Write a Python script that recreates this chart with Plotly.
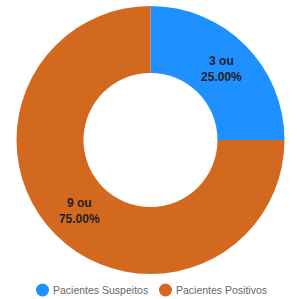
import plotly.graph_objects as go

labels = ["Pacientes Suspeitos", "Pacientes Positivos"]
values = [3, 9]
colors = ["#1E90FF", "#D2691E"]

W, H = 297, 299
fig = go.Figure()
fig.add_trace(go.Pie(
    labels=labels, values=values, hole=0.5, sort=False,
    direction="clockwise", rotation=0,
    marker=dict(colors=colors, line=dict(width=0)),
    texttemplate="<b>%{value} ou<br>%{percent:.2%}</b>",
    textposition="inside", insidetextorientation="horizontal",
    textfont=dict(family="Arial, Liberation Sans", size=12, color="#222"),
    showlegend=False, hoverinfo="label+value+percent",
    domain=dict(x=[16.5/W, 284.5/W], y=[1-274/H, 1-6/H]),
))

# legend drawn with circle shapes + text
legend_x = [36, 159]  # px, left of circle
for lab, col, lx in zip(labels, colors, legend_x):
    fig.add_shape(type="circle", xref="paper", yref="paper",
                  x0=lx/W, x1=(lx+13)/W, y0=1-296.5/H, y1=1-283.5/H,
                  fillcolor=col, line=dict(width=0))
    fig.add_annotation(x=(lx+15)/W, y=1-290/H, xref="paper", yref="paper",
                       text=lab, showarrow=False, xanchor="left", yanchor="middle",
                       font=dict(family="Arial, Liberation Sans", size=10.5, color="#666"))

fig.update_layout(
    width=W, height=H, margin=dict(l=0, r=0, t=0, b=0),
    paper_bgcolor="white", plot_bgcolor="white", showlegend=False,
)
fig.write_html("out.html", config={"displayModeBar": False},
               post_script="document.body.style.margin='0';")
